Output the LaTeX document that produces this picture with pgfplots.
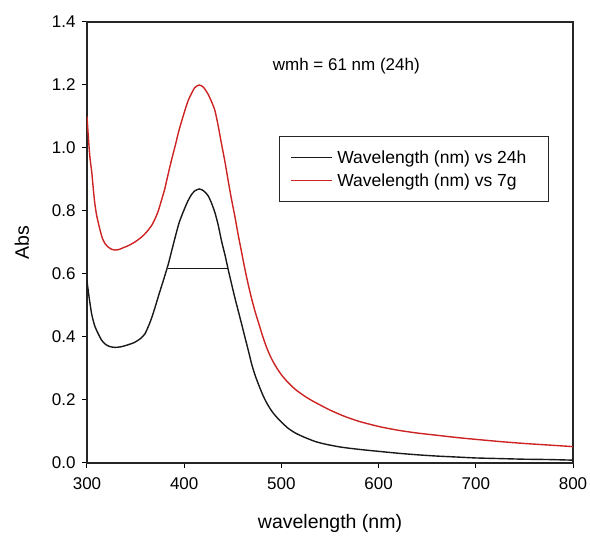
\documentclass[border=0pt]{standalone}
\usepackage{fontspec}
\setmainfont{Liberation Sans}
\usepackage{pgfplots}
\pgfplotsset{compat=1.18}
\definecolor{curvered}{RGB}{205,35,35}
\definecolor{curveblack}{RGB}{25,25,25}
\begin{document}
\begin{tikzpicture}
\path[use as bounding box] (-87pt,-75pt) rectangle (503pt,463pt);
\begin{axis}[
  scale only axis,
  width=486pt, height=441pt,
  xmin=300, xmax=800, ymin=0, ymax=1.4,
  xtick={300,400,...,800},
  ytick={0,0.2,...,1.4},
  /pgf/number format/assume math mode=true,
  /pgf/number format/fixed, /pgf/number format/fixed zerofill,
  yticklabel style={/pgf/number format/precision=1, font=\fontsize{17}{19}\selectfont, xshift=-3pt},
  xticklabel style={font=\fontsize{17}{19}\selectfont, yshift=-6pt},
  xticklabel={\pgfmathprintnumber[fixed,precision=0]{\tick}},
  tick align=outside, xtick pos=bottom, ytick pos=left,
  major tick length=5pt,
  tick style={black, line width=1pt},
  axis line style={draw=black!85, line width=1.2pt},
  xlabel={wavelength (nm)}, ylabel={Abs},
  xlabel style={at={(axis description cs:0.5,-0.136)}, anchor=center, font=\fontsize{19.5}{22}\selectfont},
  ylabel style={at={(axis description cs:-0.134,0.5)}, anchor=center, font=\fontsize{19.5}{22}\selectfont},
  legend style={at={(axis description cs:0.395,0.7415)}, anchor=north west,
    draw=black!85, line width=1pt, font=\fontsize{17.5}{19}\selectfont,
    inner xsep=11pt, inner ysep=12pt, row sep=5pt,
    nodes={inner xsep=4.5pt, inner ysep=2pt}},
  legend cell align=left,
]
\addplot[curveblack, line width=1.4pt, smooth, tension=0.4,
  legend image code/.code={\draw[draw=curveblack, line width=1.4pt] (0pt,0pt) -- (41pt,0pt);}] coordinates {
(300,0.578) (302,0.53) (304.8,0.473) (308,0.435) (311.6,0.41) (315,0.39)
(318.5,0.378) (323,0.37) (328.8,0.367) (335,0.369) (342,0.375) (349,0.383)
(355,0.395) (359.6,0.41) (364,0.44) (367,0.465) (370,0.494) (374,0.535)
(378.4,0.578) (383.6,0.631) (387,0.672) (390.4,0.713) (395,0.765) (400.7,0.81)
(404,0.833) (407.5,0.852) (411,0.864) (415.4,0.87) (419,0.866) (421.5,0.86)
(424.7,0.848) (428,0.826) (431.6,0.795) (435,0.755) (438.4,0.705) (442,0.66)
(445.2,0.615) (448,0.578) (452,0.526) (455,0.49) (459,0.442) (462,0.405)
(466,0.357) (469.5,0.313) (473,0.278) (477,0.245) (481,0.215) (485,0.19)
(490,0.165) (495,0.146) (500,0.13) (507,0.11) (515,0.094) (525,0.08)
(535,0.068) (545,0.06) (560,0.051) (575,0.045) (590,0.04) (600,0.037)
(620,0.031) (640,0.026) (660,0.022) (680,0.019) (700,0.016) (725,0.014)
(750,0.012) (775,0.011) (800,0.009)
};
\addlegendentry{Wavelength (nm) vs 24h\rule{7pt}{0pt}}
\addplot[curvered, line width=1.4pt, smooth, tension=0.4,
  legend image code/.code={\draw[draw=curvered, line width=1.4pt] (0pt,0pt) -- (41pt,0pt);}] coordinates {
(300,1.10) (301.5,1.03) (303,0.97) (304.8,0.926) (306.5,0.87) (308,0.825)
(310,0.785) (313.4,0.74) (316,0.712) (318.5,0.697) (322,0.685) (325,0.679)
(328.8,0.676) (333,0.678) (337,0.683) (342.5,0.69) (349,0.701) (356,0.717)
(361,0.732) (366.5,0.754) (370,0.775) (373.3,0.80) (377,0.838) (380,0.87)
(382,0.897) (386,0.95) (390.4,1.003) (395,1.06) (400.7,1.119) (404,1.15)
(407.5,1.173) (411,1.192) (415.4,1.2) (419,1.195) (421.5,1.186) (424.7,1.17)
(428,1.148) (431.6,1.119) (435,1.07) (438.4,1.013) (442,0.955) (445.2,0.897)
(448.5,0.84) (452,0.785) (455.5,0.725) (459,0.67) (462.5,0.615) (466,0.565)
(469.5,0.52) (473,0.48) (477,0.44) (481,0.40) (485,0.365) (490,0.33)
(495,0.303) (500,0.28) (507,0.255) (515,0.232) (525,0.21) (535,0.192)
(550,0.168) (565,0.148) (580,0.132) (600,0.116) (620,0.104) (640,0.095)
(660,0.088) (680,0.081) (700,0.075) (725,0.068) (750,0.062) (775,0.057)
(800,0.052)
};
\addlegendentry{Wavelength (nm) vs 7g}
\addplot[curveblack, line width=1pt, forget plot] coordinates {(383.3,0.617) (445.5,0.617)};
\node[anchor=west, font=\fontsize{17}{19}\selectfont, inner sep=0pt] at (axis cs:491,1.26) {wmh = 61 nm (24h)};
\end{axis}
\end{tikzpicture}
\end{document}
